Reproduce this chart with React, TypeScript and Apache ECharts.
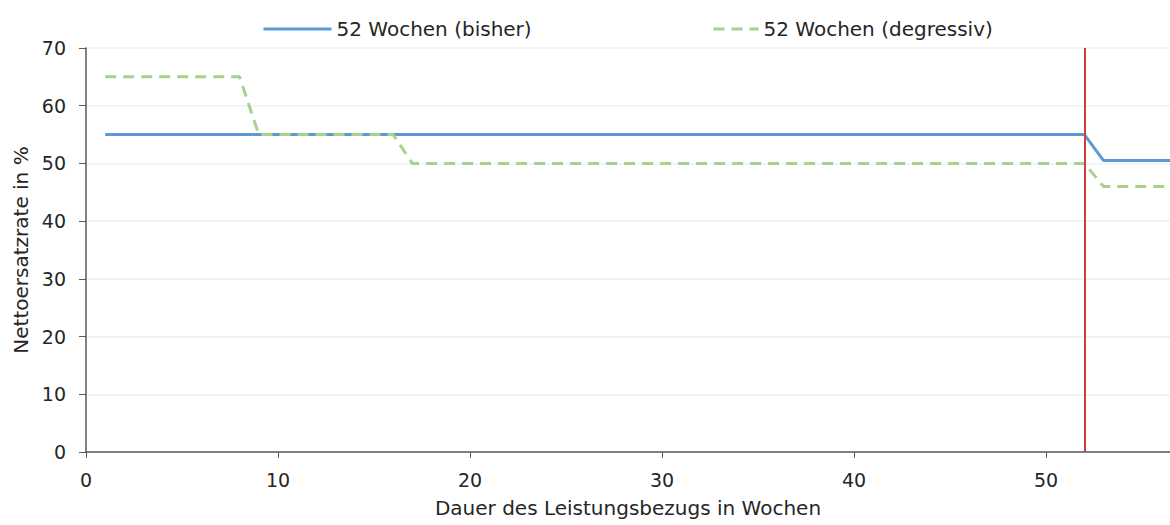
import React, { useEffect, useRef } from "react";
import * as echarts from "echarts";

const seriesNames = ["52 Wochen (bisher)", "52 Wochen (degressiv)"];
const bisherWeeks = [1, 52, 53, 57];
const bisherValues = [55, 55, 50.5, 50.5];
const degressivWeeks = [1, 8, 9, 16, 17, 52, 53, 57];
const degressivValues = [65, 65, 55, 55, 50, 50, 46, 46];
const markerWeek = 52;
const xTicks = [0, 10, 20, 30, 40, 50];
const yTicks = [0, 10, 20, 30, 40, 50, 60, 70];

const FONT = "DejaVu Sans";
const TXT = "#262626";
const FS = 19;
const FS_BIG = 20;

export default function App() {
  const ref = useRef<HTMLDivElement>(null);
  useEffect(() => {
    const chart = echarts.init(ref.current!, null, { renderer: "svg" });
    const legendText = { fontSize: FS_BIG, color: TXT, fontFamily: FONT };
    const legendCommon = {
      top: 14,
      itemHeight: 12,
      textStyle: legendText,
      itemStyle: { opacity: 0 },
      lineStyle: { width: 3 },
    };
    chart.setOption({
      animation: false,
      textStyle: { fontFamily: FONT, color: TXT },
      legend: [
        { ...legendCommon, left: 257, itemWidth: 68, data: [seriesNames[0]] },
        { ...legendCommon, left: 707, itemWidth: 45, data: [seriesNames[1]] },
      ],
      grid: { left: 86, right: 0, top: 48, bottom: 73, containLabel: false },
      xAxis: {
        type: "value",
        min: 0,
        max: 56.46,
        name: "Dauer des Leistungsbezugs in Wochen",
        nameLocation: "middle",
        nameGap: 46,
        nameTextStyle: { fontSize: FS_BIG, color: TXT, fontFamily: FONT },
        axisLine: { show: true, lineStyle: { color: "#595959", width: 1.5 } },
        axisTick: { show: true, length: 6, lineStyle: { color: "#595959" }, customValues: xTicks },
        axisLabel: { fontSize: FS, color: TXT, margin: 18, customValues: xTicks, fontFamily: FONT },
        splitLine: { show: false },
      },
      yAxis: {
        type: "value",
        min: 0,
        max: 70,
        interval: 10,
        name: "Nettoersatzrate in %",
        nameLocation: "middle",
        nameGap: 54,
        nameRotate: 90,
        nameTextStyle: { fontSize: FS_BIG, color: TXT, fontFamily: FONT },
        axisLine: { show: true, lineStyle: { color: "#595959", width: 1.5 } },
        axisTick: { show: true, length: 7, lineStyle: { color: "#595959" }, customValues: yTicks },
        axisLabel: { fontSize: FS, color: TXT, margin: 20, fontFamily: FONT },
        splitLine: { show: true, lineStyle: { color: "#efefef", width: 1.5 } },
      },
      series: [
        {
          name: seriesNames[0],
          type: "line",
          data: bisherWeeks.map((w, i) => [w, bisherValues[i]]),
          showSymbol: false,
          symbol: "none",
          lineStyle: { color: "#5B9BD5", width: 3 },
          itemStyle: { color: "#5B9BD5" },
          markLine: {
            silent: true,
            symbol: "none",
            label: { show: false },
            lineStyle: { color: "#C9403A", width: 2, type: "solid" },
            data: [{ xAxis: markerWeek }],
          },
        },
        {
          name: seriesNames[1],
          type: "line",
          data: degressivWeeks.map((w, i) => [w, degressivValues[i]]),
          showSymbol: false,
          symbol: "none",
          lineStyle: { color: "#A9D18E", width: 3, type: [11, 7] },
          itemStyle: { color: "#A9D18E" },
        },
      ],
    });
    return () => chart.dispose();
  }, []);
  return <div ref={ref} style={{ width: 1170, height: 525, position: "absolute", left: 0, top: 0 }} />;
}
